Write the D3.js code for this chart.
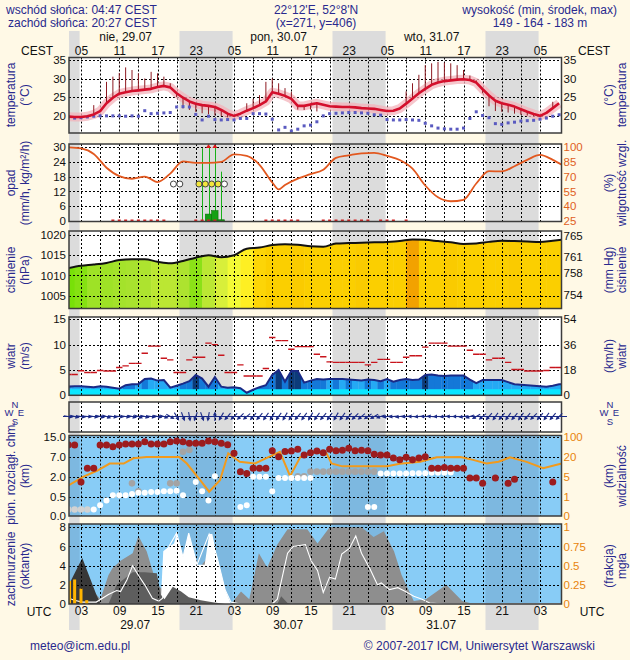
<!DOCTYPE html>
<html><head><meta charset="utf-8">
<script src="https://cdnjs.cloudflare.com/ajax/libs/d3/7.8.5/d3.min.js"></script>
<style>
html,body{margin:0;padding:0;background:#fff9e6;}
svg{display:block;font-family:"Liberation Sans",Arial,Helvetica,sans-serif;}
</style></head><body>
<svg id="chart" width="630" height="660"></svg>
<script>
// ================= DATA =================
// time axis: UTC hours counted from 29.07 00:00
const hours = d3.range(1, 79);
const hourTicks = [3, 9, 15, 21, 27, 33, 39, 45, 51, 57, 63, 69, 75];
const gridHours = [3,6,9,12,15,18,21,24,27,30,33,36,39,42,45,48,51,54,57,60,63,66,69,72,75];
const nightStart = [-5.55, 18.45, 42.45, 66.45];
const nightEnd = [2.78, 26.78, 50.78, 74.78];
const dayLabelHours = [10, 34, 58];
const dayLabelsTop = ["nie, 29.07", "pon, 30.07", "wto, 31.07"];
const dayLabelsBottom = ["29.07", "30.07", "31.07"];

// temperature panel (hourly)
const temp = [19.7,19.6,19.6,19.8,20.3,21.2,23.3,24.8,25.9,26.3,26.6,26.8,27.0,27.2,27.7,28.0,27.6,26.0,24.8,23.8,
  23.2,22.8,22.6,22.3,21.5,20.5,19.9,20.5,21.3,22.0,22.8,23.8,26.3,25.9,25.3,24.5,22.6,22.6,23.0,23.3,
  22.9,22.5,22.4,22.3,22.3,22.2,22.0,21.9,21.8,21.5,21.2,21.3,21.9,23.2,24.6,26.0,27.2,28.3,28.9,29.3,
  29.5,29.7,29.8,29.6,28.9,27.1,25.4,24.0,23.3,22.9,22.4,21.7,21.0,20.4,19.9,20.7,22.0,23.3];
const tempFelt = [null,null,null,null,22.8,null,29.1,30.5,31.5,33.0,32.3,31.4,30.0,31.8,31.4,30.5,28.7,25.0,21.9,21.5,
  21.0,20.6,20.3,20.0,19.8,19.5,null,null,23.3,24.5,25.5,29.1,30.0,28.7,27.4,26.4,21.6,21.5,21.6,21.1,
  null,null,null,null,null,null,null,null,null,null,null,null,null,26.5,28.7,31.0,33.6,34.1,34.5,34.3,
  34.1,33.6,32.3,30.8,29.5,26.0,22.5,21.2,21.0,20.8,20.5,20.2,20.0,19.8,19.6,null,23.7,null];
const dewPoint = [19.6,19.3,19.4,19.6,19.8,19.9,19.9,19.9,19.9,19.8,19.9,19.8,21.3,20.5,20.6,20.7,20.8,22.3,22.4,22.3,
  20.3,18.8,19.8,18.9,18.8,18.9,18.8,19.2,19.2,20.5,20.5,20.4,19.0,16.1,16.8,15.8,16.3,17.2,17.4,18.3,
  19.9,20.5,20.6,20.7,20.8,20.8,20.7,20.6,20.2,20.1,18.9,18.8,18.8,18.9,18.8,18.7,17.9,17.2,16.6,16.4,
  16.3,16.3,16.6,19.2,21.0,20.0,19.4,17.8,17.6,18.0,18.2,18.5,18.6,18.7,19.0,19.3,19.8,20.2];

// precipitation / humidity panel
const rhHours = [1,3,5,7,9,11,13,15,17,19,21,23,25,27,29,31,33,34,35,37,39,41,43,45,47,49,51,53,55,57,59,61,63,65,67,69,71,73,75,77,78.4];
const rh = [99.7,98.5,93,79,70.5,67.8,70,64.5,73,85.5,84,84,85,92.5,91,82,64,57,61.5,68,72.5,77,89,91.5,93.6,94,91,86.8,78,61,49,45,46.5,63,75.5,75.2,80.5,87,92,87,82];
const precipHours = [23, 24, 25];
const precip = [2.8, 4.2, 0.5];
const precipMaxHours = [22, 23, 24, 25];
const precipMax = [29.5, 45, 45, 20];
const precipDotHours = [8,9,10,11,12,13,14,15,16,21,22,23,24,32,33,34,35,36,37,41,42,43,44,45,46,47,48,50,51,52,54];
const stormHours = [17.5, 18.5, 21.5, 22.5, 23.5, 24.5, 25.5];
const stormLevel = [0, 0, 1, 1, 1, 1, 0];

// pressure panel
const presHours = [1,3,5,7,9,11,13,15,17,19,21,23,25,27,29,31,33,35,37,39,41,43,45,47,49,51,53,55,57,59,61,63,65,67,69,71,73,75,77,78.4];
const pressure = [1011.8,1012.4,1012.7,1013.1,1013.8,1014.0,1014.0,1013.4,1013.0,1013.6,1014.4,1015.0,1014.5,1015.0,1016.6,1016.9,1017.5,1017.7,1017.6,1017.2,
  1017.1,1017.9,1018.0,1018.1,1018.2,1018.3,1018.5,1018.9,1018.8,1018.5,1018.2,1017.8,1017.9,1018.3,1018.6,1018.5,1018.4,1018.3,1018.6,1018.8];
const massHours = [1,3,5,7,9,11,13,15,17,19,21,23,25,27,29,31,33,35,37,39,41,43,45,47,49,51,53,55,57,59,61,63,65,67,69,71,73,75,77];
const massIdx = [0.05,0.12,0.25,0.25,0.28,0.3,0.32,0.38,0.38,0.32,0.15,0.38,0.5,0.6,0.7,0.78,0.8,0.8,0.82,0.8,
  0.8,0.8,0.8,0.82,0.8,0.8,0.8,1.0,0.8,0.8,0.82,0.8,0.8,0.8,0.8,0.82,0.8,0.8,0.8];

// wind panel (hourly, m/s)
const windMean = [1.7,1.8,1.8,1.7,1.6,1.8,1.7,1.5,1.3,2.0,2.2,2.2,3.2,3.3,2.9,3.0,1.5,1.9,2.3,2.8,
  4.0,3.3,1.7,3.6,1.7,1.5,1.6,1.4,0.5,1.1,1.6,2.0,4.0,5.0,2.7,4.8,4.8,2.5,2.9,3.2,
  3.1,3.2,3.2,3.2,3.1,3.0,2.9,3.1,3.0,2.8,3.2,2.7,3.0,3.2,3.0,3.1,4.0,4.1,3.9,3.8,
  3.9,3.9,3.9,3.1,2.4,3.0,3.0,3.0,3.0,2.6,2.2,2.1,2.0,1.9,1.8,1.7,1.9,2.2];
const windGust = [4.1,4.1,4.85,4.5,4.5,4.9,4.8,4.8,5.5,5.8,6.3,6.3,8.3,9.7,9.7,7.3,7.0,4.5,4.5,7.0,
  7.5,7.5,10.3,10.0,7.9,4.5,4.5,6.0,3.8,3.8,3.8,5.3,11.4,10.8,10.8,9.1,9.6,9.6,9.6,8.1,
  7.6,6.6,6.5,6.5,6.5,6.5,6.5,6.0,6.5,7.1,7.1,6.5,6.5,7.5,7.8,7.8,9.5,10.3,10.3,10.3,
  9.7,9.7,9.7,8.9,8.1,8.1,7.0,7.3,7.3,6.5,5.1,5.1,4.8,4.8,4.8,4.9,5.5,5.5];
const windShade = [1,1,1,1,1,1,1,1,1,2, 2,1,2,1,1,1,1,1,2,2, 3,2,2,2,1,1,1,1,2,2,
  2,2,2,3,2,3,3,2,2,2, 2,1,2,1,2,1,1,2,1,2, 1,2,2,2,2,2,3,2,2,2, 2,2,2,2,1,1,1,1,1,1, 1,1,1,1,1,1,1,1];
// wind direction (deg, meteorological "from")
const windDir = [280,285,280,275,280,285,290,280,275,280,285,290,285,280,285,290,300,
  330,340,350,20,340,10,180,30,40,
  45,45,50,40,40,35,
  30,35,30,35,40,35,30,35,40,35,30,35,40,45,50,55,60,70,80,85,80,85,
  90,85,90,95,90,85,90,90,80,70,60,50,
  40,35,40,35,40,35,40,45,40,35,40,45];

// visibility / cloud extent panel (km)
const cloudTop = [11.9,11.9,1.6,4.2,4.2,11.9,11.9,11.2,11.9,12.3,12.3,12.3,13.2,12.3,12.3,12.3,13.2,13.5,13.2,12.6,
  12.6,12.6,13.5,13.2,12.6,12.0,8.6,3.3,2.8,4.2,4.2,4.2,9.6,7.2,9.3,9.5,10.2,7.9,8.8,9.5,
  8.8,10.2,9.6,9.8,10.6,9.6,9.8,9.6,8.2,7.9,7.9,6.8,6.4,7.0,6.4,6.8,7.2,4.2,4.2,4.4,
  4.2,4.2,4.2,1.9,1.9,1.5,null,1.9,null,1.5,1.8,null,null,null,null,null,1.6,null];
const cloudBase = [null,null,null,null,0.17,0.28,0.4,0.6,0.6,0.6,0.7,0.8,0.8,0.85,0.85,0.9,0.9,0.95,0.6,null,
  1.6,0.9,0.4,2.1,null,null,null,0.23,0.28,2.0,2.0,2.0,0.9,1.9,1.9,1.9,1.9,1.9,1.9,null,
  null,null,null,null,null,null,null,0.23,0.23,2.8,2.8,2.8,2.8,2.8,2.9,2.9,2.9,3.0,3.0,3.0,
  3.1,null,null,null,null,null,null,null,null,null,null,null,null,null,null,null,null,null];
const cloudOther = [0.17,0.17,0.17,0.17,null,null,null,null,null,null,1.5,0.9,null,null,null,null,1.5,1.5,9.2,9.9,
  null,null,null,null,null,null,null,null,null,null,null,null,null,null,null,null,2.1,2.1,3.3,3.3,
  3.3,3.3,3.3,3.3,3.3,3.3,3.3,3.3,3.3,null,null,null,null,null,null,null,null,null,null,null,
  null,null,null,null,null,null,null,null,null,null,null,null,null,null,null,null,null,null];
const visHours = [1.1,3.4,5.5,7.5,9.7,11.2,13.3,18.4,19.6,21.7,23.1,24.8,26.1,27.9,30.3,32.4,34.2,35.8,37.4,39.5,41.5,42.3,44,47,51,53,56.2,58.8,62.5,64.5,66.6,68.5,70.3,72.9,75.5,78.4];
const visKm = [3.3,5,9.6,15.2,15.2,19.2,21.4,21.4,15.2,4.3,2,4.3,36,16.6,15.2,21,42,5.4,21,40,36,15.2,13,13,13,15,16.6,20,21,18,15.2,16.6,20,16.5,11.5,15.2];

// cloud cover panel (octas)
const cloudMidH = [1.1,3.2,5.4,6.05,7.3,7.9,9.2,11.1,12.0,13.3,14.9,16.8,18.0,19.9,21.8,23.1,24.0,25.6,26.5,27.5,
  28.1,29.4,30.9,32.2,33.8,35.4,38.5,40.1,42.0,47.0,48.9,50.5,52.1,53.3,55.2,57.1,60.3,62.8,64.0,78.4];
const cloudMid = [2.3,2.5,1.0,0.5,3.0,3.7,4.5,5.3,7.1,5.5,2.0,1.0,0.5,2.5,4.0,5.0,5.0,0.8,0,0.8,
  1.3,0.5,5.3,3.8,6.2,7.8,7.8,6.3,8,8,7,7.6,5.5,3,0.3,0.5,2.0,0.3,0.1,0.1];
const cloudHighH = [15.5,15.9,16.8,17.6,18.0,19.0,19.9,21.2,22.4,23.1,23.6,24.3,25.6,26.5];
const cloudHigh = [0,5.5,6.0,6.3,7.4,4.9,7.4,4.1,4.1,7.3,7.3,5,1.5,0];
const cloudLowH = [7.3,8.6,11.1,13.0,14.9,15.5,16.1,17.4,18.7,19.9,21.8,23.4,25.6,33.8,34.4,35.4,36];
const cloudLow = [0,2.0,3.3,3.3,3.2,1.0,0.5,1.8,1.3,0.7,0.4,0.2,0,0,0.8,0.1,0];
const cloudFogH = [1.1,3.2,5.4,6.05];
const cloudFog = [2.0,4.8,1.0,0];
const convH = [1.1,1.95,3.2,5.4,7.3,8.6,9.2,10.2,11.1,12.0,13.0,14.2,15.2,15.8,16.8,18.0,19.0,19.9,21.2,23.1,24.3,25.6,26.5,28,33.0,33.8,35.4,36.3,38.2,39.1,40.1,41.0,42.0,42.9,43.9,45.1,46.1,47.0,48.3,49.5,50.1,51.4,52.7,53.9,55.2,56.5,57.7,60,78.4];
const convV = [0.6,0.4,0.2,0.2,1.0,1.4,1.3,2.5,4.0,3.0,2.0,0.6,0.3,0.6,6.0,7.4,4.9,7.4,4.1,7.3,5,1.5,0.2,0,0,0.5,5.3,6.0,6.2,4.5,3.5,1.2,2.8,2.6,5.2,5.8,7.1,5.3,3.7,2.0,2.2,1.5,1.7,1.3,0.8,0.5,0.1,0,0];
const fogHours = [1.2, 2.0, 3.0, 3.9];
const fogFrac = [0.3, 0.32, 0.2, 0.05];

// ================= DRAWING =================
const BG = '#fff9e6', NAVY = '#29298e', ORANGE = '#e8840c';
const X0 = 69, X1 = 561.5;
const x = d3.scaleLinear().domain([3, 75]).range([81, 540]);
const hMin = x.invert(X0), hMax = x.invert(X1);
const svg = d3.select('#chart');
const defs = svg.append('defs');
svg.append('rect').attr('width', 630).attr('height', 660).attr('fill', BG);
const nights = nightStart.map((s, i) => [Math.max(s, hMin), Math.min(nightEnd[i], hMax)]);
svg.append('g').selectAll('rect').data(nights).join('rect')
  .attr('x', d => x(d[0])).attr('width', d => x(d[1]) - x(d[0]))
  .attr('y', 31).attr('height', 599).attr('fill', '#dcdcdc');

let clipN = 0;
function panel(top, bottom, bg, night) {
  const id = 'clip' + (clipN++);
  defs.append('clipPath').attr('id', id).append('rect')
    .attr('x', X0).attr('y', top).attr('width', X1 - X0).attr('height', bottom - top);
  const g = svg.append('g');
  const inner = g.append('g').attr('clip-path', `url(#${id})`);
  inner.append('rect').attr('x', X0).attr('y', top).attr('width', X1 - X0).attr('height', bottom - top).attr('fill', bg);
  inner.append('g').selectAll('rect').data(nights).join('rect')
    .attr('x', d => x(d[0])).attr('width', d => x(d[1]) - x(d[0]))
    .attr('y', top).attr('height', bottom - top).attr('fill', night);
  return { g, inner, top, bottom };
}
function grid(p, yScale, yVals) {
  const gg = p.inner.append('g').attr('stroke', '#000').attr('stroke-width', 1).attr('stroke-dasharray', '2,2');
  gg.selectAll('line.v').data(gridHours).join('line').attr('class', 'v')
    .attr('x1', d => Math.round(x(d)) + 0.5).attr('x2', d => Math.round(x(d)) + 0.5)
    .attr('y1', p.top).attr('y2', p.bottom);
  if (yScale) gg.selectAll('line.h').data(yVals).join('line').attr('class', 'h')
    .attr('x1', X0).attr('x2', X1)
    .attr('y1', d => Math.round(yScale(d)) + 0.5).attr('y2', d => Math.round(yScale(d)) + 0.5);
}
function border(p) {
  p.g.append('rect').attr('x', X0).attr('y', p.top).attr('width', X1 - X0).attr('height', p.bottom - p.top)
    .attr('fill', 'none').attr('stroke', '#3c3c3c').attr('stroke-width', 1.5);
}
function axisL(scale, vals, fmt, color) {
  const a = svg.append('g').attr('transform', `translate(${X0 - 3},0)`)
    .call(d3.axisLeft(scale).tickValues(vals).tickSize(0).tickPadding(0).tickFormat(fmt || (d => d)));
  a.select('.domain').remove();
  a.attr('font-family', null).attr('font-size', 11.5);
  a.selectAll('text').attr('fill', color || '#111');
}
function axisR(scale, vals, fmt, color) {
  const a = svg.append('g').attr('transform', `translate(${X1 + 2},0)`)
    .call(d3.axisRight(scale).tickValues(vals).tickSize(0).tickPadding(0).tickFormat(fmt || (d => d)));
  a.select('.domain').remove();
  a.attr('font-family', null).attr('font-size', 11.5);
  a.selectAll('text').attr('fill', color || '#111');
}
function vTitle(cx, cy, txt) {
  svg.append('text').attr('transform', `translate(${cx},${cy}) rotate(-90)`)
    .attr('text-anchor', 'middle').attr('dy', '0.35em').attr('fill', NAVY).attr('font-size', 12).text(txt);
}
const idx = hours.map((h, i) => i);

// ---------- header ----------
const hdr = (t, xx, yy, anchor) => svg.append('text').attr('x', xx).attr('y', yy).attr('text-anchor', anchor)
  .attr('fill', NAVY).attr('font-size', 12).text(t);
hdr('wschód słońca: 04:47 CEST', 6, 13.5, 'start');
hdr('zachód słońca: 20:27 CEST', 8, 27, 'start');
hdr("22°12'E, 52°8'N", 316, 13.5, 'middle');
hdr('(x=271,  y=406)', 316, 27, 'middle');
hdr('wysokość (min, środek, max)', 617, 13.5, 'end');
hdr('149 - 164 - 183 m', 540, 27, 'middle');

// top time axes
svg.append('g').selectAll('text').data(dayLabelHours).join('text')
  .attr('x', d => x(d)).attr('y', 40.5).attr('text-anchor', 'middle').attr('font-size', 12).attr('fill', '#111')
  .text((d, i) => dayLabelsTop[i]);
{
  const a = svg.append('g').attr('transform', 'translate(0,54.5)')
    .call(d3.axisTop(x).tickValues(hourTicks).tickSize(0).tickPadding(0).tickFormat(h => String((h + 2) % 24).padStart(2, '0')));
  a.select('.domain').remove(); a.attr('font-family', null).attr('font-size', 12); a.selectAll('text').attr('fill', '#111');
}
svg.append('text').attr('x', 37).attr('y', 54.5).attr('text-anchor', 'middle').attr('font-size', 12).attr('fill', '#111').text('CEST');
svg.append('text').attr('x', 594).attr('y', 54.5).attr('text-anchor', 'middle').attr('font-size', 12).attr('fill', '#111').text('CEST');

// ---------- temperature ----------
const tY = d3.scaleLinear().domain([20, 35]).range([115.5, 60]);
const pT = panel(57.5, 133, '#ffffff', '#dcdcdc');
grid(pT, tY, [20, 25, 30, 35]);
const tLine = d3.line().x(i => x(hours[i])).y(i => tY(temp[i]));
pT.inner.append('path').attr('d', tLine(idx)).attr('fill', 'none').attr('stroke', '#f3b3bb')
  .attr('stroke-width', 9).attr('stroke-linejoin', 'round').attr('opacity', 0.75);
pT.inner.append('g').selectAll('line').data(idx.filter(i => tempFelt[i] != null)).join('line')
  .attr('x1', i => x(hours[i])).attr('x2', i => x(hours[i]))
  .attr('y1', i => tY(temp[i])).attr('y2', i => tY(tempFelt[i]))
  .attr('stroke', '#8e1a22').attr('stroke-width', 1);
pT.inner.append('g').selectAll('rect').data(idx).join('rect')
  .attr('x', i => x(hours[i]) - 1.5).attr('y', i => tY(dewPoint[i]) - 1.5).attr('width', 3).attr('height', 3)
  .attr('fill', '#5a5ac0');
pT.inner.append('path').attr('d', tLine(idx)).attr('fill', 'none').attr('stroke', '#d40f2c')
  .attr('stroke-width', 2.6).attr('stroke-linejoin', 'round');
border(pT);
axisL(tY, [20, 25, 30, 35]); axisR(tY, [20, 25, 30, 35]);
vTitle(11, 95, 'temperatura'); vTitle(25, 95, '(°C)');
vTitle(609, 95, '(°C)'); vTitle(622, 95, 'temperatura');

// ---------- precipitation / humidity ----------
const pY = d3.scaleLinear().domain([0, 30]).range([221, 147]);
const rhY = d3.scaleLinear().domain([25, 100]).range([221, 147]);
const pP = panel(144, 221.5, '#ffffff', '#dcdcdc');
grid(pP, pY, [6, 12, 18, 24, 30]);
pP.inner.append('g').selectAll('line').data(precipMaxHours).join('line')
  .attr('x1', d => Math.round(x(d)) + 0.5).attr('x2', d => Math.round(x(d)) + 0.5)
  .attr('y1', pY(0)).attr('y2', (d, i) => pY(Math.min(precipMax[i], 30.2)))
  .attr('stroke', '#19b019').attr('stroke-width', 1);
pP.inner.append('g').selectAll('rect').data(precipHours).join('rect')
  .attr('x', d => x(d - 0.5)).attr('width', d => x(d + 0.5) - x(d - 0.5))
  .attr('y', (d, i) => pY(precip[i])).attr('height', (d, i) => pY(0) - pY(precip[i]))
  .attr('fill', '#14a014').attr('stroke', '#0b6e0b').attr('stroke-width', 0.6);
pP.inner.append('g').selectAll('path').data(precipMaxHours.filter((d, i) => precipMax[i] > 30)).join('path')
  .attr('d', d => `M${x(d) - 2.5},${pY(30) + 1} L${x(d) + 2.5},${pY(30) + 1} L${x(d)},${pY(30) - 3} Z`)
  .attr('fill', '#e01818');
pP.inner.append('g').selectAll('rect').data(precipDotHours).join('rect')
  .attr('x', d => x(d) - 1.5).attr('y', pY(0) - 1.5).attr('width', 3).attr('height', 2.5).attr('fill', '#d82020');
pP.inner.append('path').attr('d', d3.line().x((d, i) => x(rhHours[i])).y(d => rhY(d)).curve(d3.curveMonotoneX)(rh))
  .attr('fill', 'none').attr('stroke', '#e2581f').attr('stroke-width', 1.8);
pP.inner.append('g').selectAll('circle').data(stormHours).join('circle')
  .attr('cx', d => x(d)).attr('cy', pY(15)).attr('r', 3)
  .attr('fill', (d, i) => stormLevel[i] ? '#f2e63c' : '#ffffff').attr('stroke', '#444').attr('stroke-width', 1);
border(pP);
axisL(pY, [0, 6, 12, 18, 24, 30]); axisR(rhY, [25, 40, 55, 70, 85, 100], null, '#e0601c');
vTitle(11, 183, 'opad'); vTitle(25, 183, '(mm/h, kg/m²/h)');
vTitle(609, 183, '(%)'); vTitle(622, 183, 'wilgotność wzgl.');

// ---------- pressure ----------
const prY = d3.scaleLinear().domain([1005, 1020]).range([295.7, 235]);
const mmY = d3.scaleLinear().domain(prY.domain().map(v => v / 1.33322)).range(prY.range());
const pPr = panel(231, 308.5, '#ffffff', '#dcdcdc');
const prArea = d3.area().x((d, i) => x(presHours[i])).y0(308.5).y1(d => prY(d)).curve(d3.curveMonotoneX);
defs.append('clipPath').attr('id', 'prClip').append('path').attr('d', prArea(pressure));
const massColor = d3.scaleLinear().domain([0, 0.3, 0.5, 0.65, 0.8, 1])
  .range(['#6ee000', '#a8e22e', '#d8ef3a', '#ffff34', '#fbcf00', '#f2a200']);
pPr.inner.append('g').attr('clip-path', 'url(#prClip)').selectAll('rect').data(massHours).join('rect')
  .attr('x', d => x(d - 1)).attr('width', (d, i) => (i === massHours.length - 1 ? X1 : x(d + 1)) - x(d - 1) + 0.5)
  .attr('y', 231).attr('height', 78).attr('fill', (d, i) => massColor(massIdx[i]));
grid(pPr, prY, [1005, 1010, 1015, 1020]);
pPr.inner.append('path').attr('d', d3.line().x((d, i) => x(presHours[i])).y(d => prY(d)).curve(d3.curveMonotoneX)(pressure))
  .attr('fill', 'none').attr('stroke', '#111').attr('stroke-width', 2);
border(pPr);
axisL(prY, [1005, 1010, 1015, 1020]); axisR(mmY, [754, 758, 761, 765]);
vTitle(11, 270, 'ciśnienie'); vTitle(25, 270, '(hPa)');
vTitle(609, 270, '(mm Hg)'); vTitle(622, 270, 'ciśnienie');

// ---------- wind ----------
const wY = d3.scaleLinear().domain([0, 15]).range([395.3, 319.3]);
const kmY = d3.scaleLinear().domain([0, 54]).range(wY.range());
const pW = panel(317, 395.3, '#ffffff', '#dcdcdc');
const wIdx = [0].concat(idx, [idx.length - 1]);
const wx = (k, j) => j === 0 ? X0 - 1 : (j === wIdx.length - 1 ? X1 + 1 : x(hours[k]));
defs.append('clipPath').attr('id', 'wClip').append('path')
  .attr('d', d3.area().x(wx).y0(wY(0)).y1(k => wY(windMean[k]))(wIdx));
const shadeColor = d3.scaleOrdinal().domain([1, 2, 3]).range(['#25a9f4', '#1478d8', '#0c3b7a']);
const wFill = pW.inner.append('g').attr('clip-path', 'url(#wClip)');
wFill.selectAll('rect').data(idx).join('rect')
  .attr('x', i => i === 0 ? X0 : x(hours[i] - 0.5))
  .attr('width', i => (i === idx.length - 1 ? X1 : x(hours[i] + 0.5)) - (i === 0 ? X0 : x(hours[i] - 0.5)) + 0.3)
  .attr('y', 317).attr('height', 80).attr('fill', i => shadeColor(windShade[i]));
wFill.append('rect').attr('x', X0).attr('width', X1 - X0).attr('y', wY(1.2)).attr('height', wY(0) - wY(1.2)).attr('fill', '#0ae6ff');
grid(pW, wY, [5, 10, 15]);
pW.inner.append('path').attr('d', d3.line().x(wx).y(k => wY(windMean[k]))(wIdx))
  .attr('fill', 'none').attr('stroke', '#1b2a86').attr('stroke-width', 2);
pW.inner.append('g').selectAll('line').data(idx).join('line')
  .attr('x1', i => x(hours[i] - 0.5)).attr('x2', i => x(hours[i] + 0.5))
  .attr('y1', i => wY(windGust[i])).attr('y2', i => wY(windGust[i]))
  .attr('stroke', '#c8141c').attr('stroke-width', 1.4);
border(pW);
axisL(wY, [0, 5, 10, 15]); axisR(kmY, [0, 18, 36, 54]);
vTitle(11, 356, 'wiatr'); vTitle(25, 356, '(m/s)');
vTitle(609, 356, '(km/h)'); vTitle(622, 356, 'wiatr');

// ---------- wind direction ----------
const pD = panel(402, 432, '#ffffff', '#dcdcdc');
grid(pD, null, []);
border(pD);
svg.append('line').attr('x1', 63).attr('x2', 567).attr('y1', 416.5).attr('y2', 416.5).attr('stroke', '#1b2a86').attr('stroke-width', 1);
svg.append('g').selectAll('g').data(idx).join('g')
  .attr('transform', i => `translate(${x(hours[i])},416.5) rotate(${windDir[i] + 90})`)
  .each(function () {
    const g = d3.select(this);
    g.append('line').attr('x1', -4.5).attr('x2', 3).attr('y1', 0).attr('y2', 0).attr('stroke', '#1b2a86').attr('stroke-width', 1.1);
    g.append('path').attr('d', 'M5,0 L1,-2 L1,2 Z').attr('fill', '#1b2a86');
  });
[9, 604].forEach(cx => {
  const c = svg.append('g').attr('fill', NAVY).attr('font-size', 9.5).attr('text-anchor', 'middle');
  c.append('text').attr('x', cx + 6).attr('y', 408).text('N');
  c.append('text').attr('x', cx).attr('y', 416).text('W');
  c.append('text').attr('x', cx + 12).attr('y', 416).text('E');
  c.append('text').attr('x', cx + 6).attr('y', 424.5).text('S');
});

// ---------- visibility / cloud extent ----------
const cbY = d3.scaleLinear().domain([0, 0.5, 2, 7, 15]).range([516, 496.7, 476.7, 457.3, 437.3]);
const vY = d3.scaleLinear().domain([0, 1, 5, 20, 100]).range([516, 496.7, 476.7, 457.3, 437.3]);
const pV = panel(435.5, 516, '#88ccf6', 'rgba(70,80,110,0.16)');
grid(pV, cbY, [0.5, 2, 7, 15]);
pV.inner.append('path').attr('d', d3.line().x((d, i) => x(visHours[i])).y(d => vY(d))(visKm))
  .attr('fill', 'none').attr('stroke', '#f29a1c').attr('stroke-width', 2);
pV.inner.append('g').selectAll('circle').data(idx.filter(i => cloudOther[i] != null)).join('circle')
  .attr('cx', i => x(hours[i])).attr('cy', i => cbY(cloudOther[i])).attr('r', 3.3).attr('fill', i => cloudOther[i] < 0.5 ? '#d2d2d2' : '#a4a4a4');
pV.inner.append('g').selectAll('circle').data(idx.filter(i => cloudBase[i] != null)).join('circle')
  .attr('cx', i => x(hours[i])).attr('cy', i => cbY(cloudBase[i])).attr('r', 3).attr('fill', '#ffffff');
pV.inner.append('g').selectAll('circle').data(idx.filter(i => cloudTop[i] != null)).join('circle')
  .attr('cx', i => x(hours[i])).attr('cy', i => cbY(cloudTop[i])).attr('r', 3.5).attr('fill', '#9c1c1e');
border(pV);
axisL(cbY, [0, 0.5, 2, 7, 15], d3.format('.1f')); axisR(vY, [0, 1, 5, 20, 100], null, ORANGE);
vTitle(11, 473, 'pion. rozciągł. chm.'); vTitle(25, 476, '(km)');
vTitle(609, 476, '(km)'); vTitle(622, 476, 'widzialność');

// ---------- cloud cover ----------
const cY = d3.scaleLinear().domain([0, 8]).range([604, 527.3]);
const fY = d3.scaleLinear().domain([0, 1]).range([604, 527.3]);
const pC = panel(524, 604, '#88ccf6', 'rgba(70,80,110,0.16)');
const cArea = (H, V, col) => pC.inner.append('path')
  .attr('d', d3.area().x((d, i) => x(H[i])).y0(cY(0)).y1(d => cY(d))(V)).attr('fill', col);
cArea(cloudMidH, cloudMid, '#8e8e8e');
cArea(cloudHighH, cloudHigh, '#ffffff');
cArea(cloudLowH, cloudLow, '#5e5e5e');
cArea(cloudFogH, cloudFog, '#383838');
grid(pC, cY, [2, 4, 6, 8]);
pC.inner.append('path').attr('d', d3.line().x((d, i) => x(convH[i])).y(d => cY(d))(convV))
  .attr('fill', 'none').attr('stroke', '#ffffff').attr('stroke-width', 1.1);
pC.inner.append('g').selectAll('rect').data(fogHours).join('rect')
  .attr('x', d => x(d) - 1.5).attr('width', 3).attr('y', (d, i) => fY(fogFrac[i])).attr('height', (d, i) => fY(0) - fY(fogFrac[i]))
  .attr('fill', '#ffb400');
border(pC);
axisL(cY, [0, 2, 4, 6, 8]); axisR(fY, [0, 0.25, 0.5, 0.75, 1], null, ORANGE);
vTitle(11, 569, 'zachmurzenie'); vTitle(25, 566, '(oktanty)');
vTitle(609, 566, '(frakcja)'); vTitle(622, 566, 'mgła');

// ---------- bottom axis ----------
{
  const a = svg.append('g').attr('transform', 'translate(0,606)')
    .call(d3.axisBottom(x).tickValues(hourTicks).tickSize(0).tickPadding(0).tickFormat(h => String(h % 24).padStart(2, '0')));
  a.select('.domain').remove(); a.attr('font-family', null).attr('font-size', 12); a.selectAll('text').attr('fill', '#111');
}
svg.append('text').attr('x', 39).attr('y', 615.5).attr('text-anchor', 'middle').attr('font-size', 12).attr('fill', '#111').text('UTC');
svg.append('text').attr('x', 592).attr('y', 615.5).attr('text-anchor', 'middle').attr('font-size', 12).attr('fill', '#111').text('UTC');
svg.append('g').selectAll('text').data(dayLabelHours).join('text')
  .attr('x', d => x(d + 1.5)).attr('y', 628.5).attr('text-anchor', 'middle').attr('font-size', 12).attr('fill', '#111')
  .text((d, i) => dayLabelsBottom[i]);

// ---------- footer ----------
svg.append('text').attr('x', 30).attr('y', 650).attr('font-size', 12).attr('fill', NAVY).text('meteo@icm.edu.pl');
svg.append('text').attr('x', 595).attr('y', 650).attr('text-anchor', 'end').attr('font-size', 12).attr('fill', NAVY)
  .text('© 2007-2017 ICM, Uniwersytet Warszawski');
</script></body></html>
